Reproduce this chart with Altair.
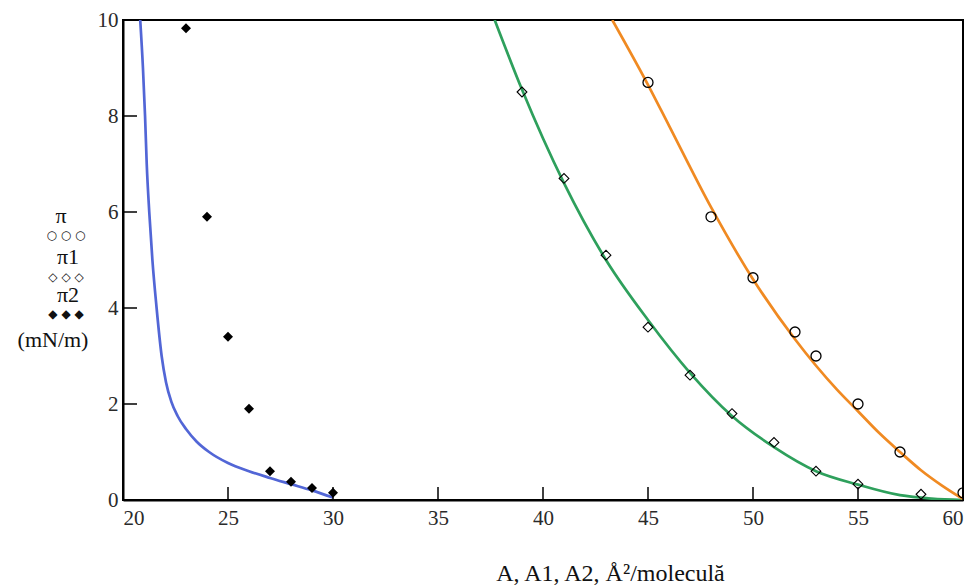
import altair as alt
import pandas as pd

# ---- data ----
# measured points
a2_pts = [23, 24, 25, 26, 27, 28, 29, 30]
pi2_pts = [9.83, 5.9, 3.4, 1.9, 0.6, 0.38, 0.25, 0.15]

a_circ = [45, 48, 50, 52, 53, 55, 57, 60]
pi_circ = [8.7, 5.9, 4.63, 3.5, 3.0, 2.0, 1.0, 0.15]

a_diam = [39, 41, 43, 45, 47, 49, 51, 53, 55, 58]
pi_diam = [8.5, 6.7, 5.1, 3.6, 2.6, 1.8, 1.2, 0.6, 0.33, 0.12]

# fitted curves
blue_x = [20.82, 20.95, 21.05, 21.13, 21.25, 21.4, 21.6, 21.84, 22.05, 22.3, 22.6, 23.0,
          23.5, 24.1, 25.0, 26.0, 27.0, 28.0, 29.0, 30.0]
blue_y = [10.0, 9.0, 8.0, 7.0, 6.0, 5.0, 4.0, 3.0, 2.45, 2.05, 1.75, 1.48,
          1.22, 1.0, 0.77, 0.6, 0.46, 0.33, 0.2, 0.05]

green_x = [37.7, 39, 41, 43, 45, 47, 49, 51, 53, 55, 57, 58.5, 60]
green_y = [10.0, 8.55, 6.6, 5.0, 3.75, 2.65, 1.75, 1.1, 0.6, 0.32, 0.1, 0.03, 0.0]

orange_x = [43.3, 45, 46, 48, 50, 52, 54, 55, 56, 57, 58, 59, 60]
orange_y = [10.0, 8.65, 7.8, 6.1, 4.6, 3.35, 2.3, 1.85, 1.4, 1.0, 0.62, 0.3, 0.02]

x_ticks = [20, 25, 30, 35, 40, 45, 50, 55, 60]
y_ticks = [0, 2, 4, 6, 8, 10]

y_title = ["π", "○ ○ ○", "π1", "◇ ◇ ◇", "π2", "◆ ◆ ◆", "(mN/m)"]
x_title = "A, A1, A2,   Å²/moleculă"

SERIF = "Liberation Serif, Times New Roman, serif"
SYM = "DejaVu Sans"
W, H = 840, 480

xs = alt.Scale(domain=[20, 60], nice=False, zero=False)
ys = alt.Scale(domain=[0, 10], nice=False, zero=False)

xaxis = alt.Axis(values=x_ticks, ticks=False, grid=False, domainColor="black", domainWidth=2,
                 labelFont=SERIF, labelFontSize=21, labelColor="#2a2a2a", labelPadding=7,
                 title=x_title, titleFont=SERIF, titleFontSize=24,
                 titleFontWeight="normal", titleColor="#111111", titleX=487, titleY=80,
                 titleBaseline="alphabetic", titleAnchor="middle", titleAlign="center")
yaxis = alt.Axis(values=y_ticks, ticks=False, grid=False, domainColor="black", domainWidth=2,
                 labelFont=SERIF, labelFontSize=21, labelColor="#2a2a2a", labelPadding=5,
                 title=None)

def df(x, y):
    return pd.DataFrame({"x": x, "y": y})

def line(x, y, color):
    return alt.Chart(df(x, y)).mark_line(color=color, strokeWidth=2.7, interpolate="monotone", clip=True).encode(
        x=alt.X("x:Q", scale=xs, axis=xaxis), y=alt.Y("y:Q", scale=ys, axis=yaxis))

blue = line(blue_x, blue_y, "#5266d6")
green = line(green_x, green_y, "#2ea05c")
orange = line(orange_x, orange_y, "#f08a22")

pts_fill = alt.Chart(df(a2_pts, pi2_pts)).mark_point(shape="diamond", filled=True, color="black", size=100, opacity=1, clip=True).encode(
    x=alt.X("x:Q", scale=xs), y=alt.Y("y:Q", scale=ys))
pts_circ = alt.Chart(df(a_circ, pi_circ)).mark_point(shape="circle", filled=False, color="black", size=100, strokeWidth=1.3, opacity=1, clip=True).encode(
    x=alt.X("x:Q", scale=xs), y=alt.Y("y:Q", scale=ys))
pts_diam = alt.Chart(df(a_diam, pi_diam)).mark_point(shape="diamond", filled=False, color="black", size=95, strokeWidth=1.1, opacity=1, clip=True).encode(
    x=alt.X("x:Q", scale=xs), y=alt.Y("y:Q", scale=ys))

xt = alt.Chart(pd.DataFrame({"t": x_ticks})).mark_rule(color="black", strokeWidth=1.5).encode(
    x=alt.X("t:Q", scale=xs), y=alt.value(H), y2=alt.value(H - 13))
yt = alt.Chart(pd.DataFrame({"t": y_ticks})).mark_rule(color="black", strokeWidth=1.5).encode(
    y=alt.Y("t:Q", scale=ys), x=alt.value(0), x2=alt.value(14))

# stacked y-axis title (Mathcad style), positions relative to the plot's top-left corner
title_pos = [(-62, 196), (-57, 215), (-55, 237), (-57, 257), (-55, 275), (-57, 294), (-70, 320)]
title_font = [SERIF, SYM, SERIF, SYM, SERIF, SYM, SERIF]
title_size = [22, 12, 22, 12, 22, 12, 22]
title_layers = []
for txt, (px, py), fnt, fs in zip(y_title, title_pos, title_font, title_size):
    title_layers.append(
        alt.Chart(pd.DataFrame({"label": [txt]})).mark_text(
            font=fnt, fontSize=fs, color="#111111", align="center", baseline="middle"
        ).encode(text="label:N", x=alt.value(px), y=alt.value(py))
    )

chart = alt.layer(blue, green, orange, pts_fill, pts_circ, pts_diam, xt, yt, *title_layers).properties(
    width=W, height=H,
    autosize=alt.AutoSizeParams(type="none"),
    padding={"left": 123, "top": 20, "right": 16, "bottom": 86},
    background="white",
).configure_view(stroke="black", strokeWidth=2)

chart.save("out.html", embed_options={"renderer": "svg", "actions": False})
